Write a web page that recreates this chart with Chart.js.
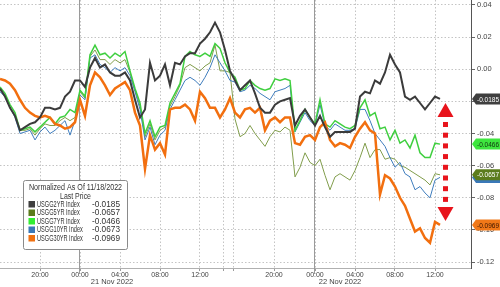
<!DOCTYPE html>
<html lang="en">
<head>
<meta charset="UTF-8">
<title>US Treasury yields, normalized as of 11/18/2022</title>
<style>
  html, body { margin: 0; padding: 0; background: #fff; }
  #chart { display: block; }
</style>
</head>
<body>
<canvas id="chart" width="500" height="287" aria-label="Normalized US Treasury yields" role="img"></canvas>

<script src="https://cdn.jsdelivr.net/npm/chart.js@4"></script>
<script>
// one sample every half hour on Bloomberg's compressed time axis (hours from the left edge)
const STEP = 0.5;

const usgg2yr = [
  -0.012, -0.017, -0.024, -0.029, -0.038, -0.036, -0.034, -0.033, -0.030, -0.024,
  -0.024, -0.025, -0.024, -0.017, -0.014, -0.007, -0.007, -0.011, 0.001, 0.007,
  0.001, 0.003, -0.002, -0.004, -0.004, -0.002, -0.007, -0.019, -0.030, -0.025,
  0.004, -0.007, -0.004, 0.003, -0.010, 0.004, 0.003, 0.008, 0.010, 0.010,
  0.016, 0.019, 0.023, 0.029, 0.023, 0.012, -0.001, -0.007, -0.013, -0.010,
  -0.007, -0.015, -0.024, -0.027, -0.027, -0.022, -0.020, -0.019, -0.018, -0.035,
  -0.029, -0.025, -0.030, -0.035, -0.029, -0.036, -0.042, -0.039, -0.039, -0.039,
  -0.039, -0.037, -0.017, -0.014, -0.015, -0.007, -0.009, -0.002, 0.009, 0.003,
  -0.002, -0.017, -0.019, -0.017, -0.021, -0.025, -0.021, -0.017, -0.0185
];
const usgg5yr = [
  -0.013, -0.016, -0.024, -0.029, -0.038, -0.038, -0.037, -0.041, -0.037, -0.034,
  -0.035, -0.035, -0.032, -0.030, -0.032, -0.030, -0.014, -0.018, 0.008, 0.012,
  0.006, 0.006, 0.003, 0.006, 0.004, 0.006, -0.002, -0.013, -0.023, -0.042,
  -0.034, -0.044, -0.038, -0.036, -0.023, -0.017, -0.010, 0.001, 0.003, 0.001,
  -0.001, 0.002, 0.004, 0.015, -0.001, -0.001, -0.002, -0.031, -0.042, -0.040,
  -0.035, -0.040, -0.044, -0.048, -0.042, -0.038, -0.039, -0.036, -0.038, -0.067,
  -0.061, -0.052, -0.058, -0.060, -0.056, -0.066, -0.075, -0.067, -0.065, -0.067,
  -0.069, -0.063, -0.055, -0.046, -0.055, -0.050, -0.050, -0.056, -0.055, -0.056,
  -0.060, -0.061, -0.063, -0.065, -0.067, -0.069, -0.072, -0.065, -0.0657
];
const usgg7yr = [
  -0.011, -0.015, -0.022, -0.027, -0.038, -0.037, -0.036, -0.039, -0.036, -0.033,
  -0.030, -0.034, -0.030, -0.029, -0.025, -0.027, -0.013, -0.017, 0.009, 0.015,
  0.009, 0.010, 0.007, 0.010, 0.008, 0.011, -0.001, -0.012, -0.021, -0.040,
  -0.032, -0.042, -0.036, -0.035, -0.021, -0.015, -0.009, 0.008, 0.011, 0.009,
  0.008, 0.010, 0.008, 0.016, 0.013, 0.004, -0.002, -0.005, -0.013, -0.012,
  -0.007, -0.010, -0.012, -0.013, -0.012, -0.006, -0.007, -0.006, -0.007, -0.038,
  -0.032, -0.025, -0.030, -0.034, -0.019, -0.034, -0.036, -0.032, -0.034, -0.036,
  -0.037, -0.035, -0.024, -0.019, -0.029, -0.027, -0.037, -0.036, -0.044, -0.038,
  -0.046, -0.044, -0.049, -0.041, -0.052, -0.055, -0.055, -0.046, -0.0466
];
const usgg10yr = [
  -0.014, -0.017, -0.024, -0.030, -0.040, -0.039, -0.038, -0.044, -0.039, -0.036,
  -0.040, -0.038, -0.035, -0.032, -0.041, -0.032, -0.016, -0.019, 0.007, 0.009,
  0.003, 0.001, -0.002, 0.001, -0.001, 0.001, -0.004, -0.014, -0.025, -0.044,
  -0.036, -0.047, -0.041, -0.038, -0.025, -0.019, -0.013, -0.007, -0.005, -0.007,
  -0.010, -0.005, 0.001, 0.009, 0.004, -0.001, -0.007, -0.008, -0.014, -0.013,
  -0.010, -0.012, -0.015, -0.017, -0.019, -0.014, -0.013, -0.012, -0.010, -0.039,
  -0.033, -0.027, -0.032, -0.035, -0.022, -0.035, -0.038, -0.034, -0.036, -0.038,
  -0.038, -0.037, -0.025, -0.025, -0.032, -0.040, -0.044, -0.048, -0.055, -0.061,
  -0.058, -0.065, -0.067, -0.075, -0.073, -0.077, -0.080, -0.069, -0.0673
];
const usgg30yr = [
  -0.006, -0.007, -0.009, -0.013, -0.019, -0.024, -0.027, -0.029, -0.030, -0.029,
  -0.030, -0.034, -0.035, -0.037, -0.036, -0.033, -0.019, -0.029, -0.010, -0.002,
  -0.005, -0.010, -0.016, -0.012, -0.010, -0.008, -0.013, -0.027, -0.035, -0.062,
  -0.041, -0.050, -0.046, -0.053, -0.025, -0.024, -0.024, -0.022, -0.025, -0.032,
  -0.014, -0.018, -0.024, -0.024, -0.030, -0.025, -0.018, -0.027, -0.030, -0.025,
  -0.024, -0.027, -0.024, -0.038, -0.032, -0.030, -0.033, -0.030, -0.030, -0.046,
  -0.047, -0.042, -0.041, -0.044, -0.036, -0.033, -0.044, -0.048, -0.046, -0.047,
  -0.049, -0.042, -0.037, -0.033, -0.038, -0.040, -0.078, -0.066, -0.068, -0.073,
  -0.080, -0.085, -0.093, -0.101, -0.099, -0.105, -0.108, -0.095, -0.0969
];

const seriesNames = ['USGG2YR Index', 'USGG5YR Index', 'USGG7YR Index', 'USGG10YR Index', 'USGG30YR Index'];
const seriesValues = [usgg2yr, usgg5yr, usgg7yr, usgg10yr, usgg30yr];

// x ticks (hours on the compressed axis) and their labels
const tickHours = [4, 8, 12, 16, 20, 22.3, 23.3, 27.4, 31.5, 35.5, 39.5, 43.5];
const tickLabels = ['20:00', '00:00', '04:00', '08:00', '12:00', '', '', '20:00', '00:00', '04:00', '08:00', '12:00'];
const dayStarts = [8, 31.5];
const dayLabels = ['21 Nov 2022', '22 Nov 2022'];
const dayLabelHours = [11.2, 34];
const yTicks = [0.04, 0.02, 0, -0.02, -0.04, -0.06, -0.08, -0.10, -0.12];

const lineColors = ['#3b3b3b', '#819d4c', '#3fcf3f', '#3f7dbd', '#f26f0f'];
const lineWidths = [2, 1, 1.5, 1, 2.5];
const swatchColors = ['#3f3f3f', '#5b7c1c', '#33ee33', '#3a78b8', '#f07010'];
const tagColors = ['#3f3f3f', '#5b7c1c', '#3ee63e', '#3a78b8', '#f07818'];
const tagText = ['#ffffff', '#ffffff', '#123312', '#ffffff', '#3a1500'];

const FONT = '"Liberation Sans", Arial, sans-serif';
Chart.defaults.font.family = FONT;
Chart.defaults.font.size = 7.5;
Chart.defaults.color = '#444';

const last = arr => arr[arr.length - 1];

// squeezed text, the Bloomberg legend font is much narrower than ours
function narrowText(ctx, txt, x, y, squeeze) {
    ctx.fillText(txt, x, y, ctx.measureText(txt).width * squeeze);
}

// extra drawing: day dividers, date row, price tags, red arrow, legend box
const overlays = {
    id: 'overlays',
    beforeDatasetsDraw(chart) {
        const { ctx, chartArea, scales: { x } } = chart;
        ctx.save();
        ctx.strokeStyle = '#9a9a9a';
        ctx.lineWidth = 1;
        dayStarts.forEach(h => {
            const px = Math.round(x.getPixelForValue(h)) - 0.5;
            ctx.beginPath();
            ctx.moveTo(px, chartArea.top);
            ctx.lineTo(px, chartArea.bottom + 6);
            ctx.stroke();
        });
        ctx.restore();
    },
    afterDraw(chart) {
        const { ctx, scales: { x, y } } = chart;
        ctx.save();
        ctx.font = '7.5px ' + FONT;
        ctx.textBaseline = 'middle';

        // date row
        ctx.fillStyle = '#444';
        ctx.textAlign = 'center';
        dayLabels.forEach((txt, i) => ctx.fillText(txt, x.getPixelForValue(dayLabelHours[i]), 282));

        // last-price tags on the right axis
        ctx.textAlign = 'left';
        const left = x.right + 1;
        [4, 3, 1, 2, 0].forEach(i => {
            const v = last(seriesValues[i]);
            const py = y.getPixelForValue(v);
            ctx.beginPath();
            ctx.moveTo(left, py);
            ctx.lineTo(left + 4, py - 5.5);
            ctx.lineTo(500, py - 5.5);
            ctx.lineTo(500, py + 5.5);
            ctx.lineTo(left + 4, py + 5.5);
            ctx.closePath();
            ctx.fillStyle = tagColors[i];
            ctx.fill();
            ctx.fillStyle = tagText[i];
            ctx.fillText(v.toFixed(4), left + 5, py + 0.5, 22);
        });

        // red double arrow between the 2YR and 30YR closes
        const ax = x.getPixelForValue(44.55);
        const top = y.getPixelForValue(last(usgg2yr) - 0.0025);
        const bot = y.getPixelForValue(last(usgg30yr) + 0.0025);
        ctx.fillStyle = '#e8141c';
        ctx.beginPath();
        ctx.moveTo(ax, top);
        ctx.lineTo(ax + 8, top + 14);
        ctx.lineTo(ax - 8, top + 14);
        ctx.closePath();
        ctx.fill();
        ctx.beginPath();
        ctx.moveTo(ax, bot);
        ctx.lineTo(ax + 8, bot - 14);
        ctx.lineTo(ax - 8, bot - 14);
        ctx.closePath();
        ctx.fill();
        for (let yy = top + 19; yy < bot - 18; yy += 10.7) {
            ctx.fillRect(ax - 2.5, yy, 5, 5);
        }

        // legend box
        const bx = 23.5, by = 180.5, bw = 104, bh = 69;
        ctx.fillStyle = '#fff';
        ctx.strokeStyle = '#8a8a8a';
        ctx.lineWidth = 1;
        ctx.beginPath();
        ctx.roundRect(bx, by, bw, bh, 2);
        ctx.fill();
        ctx.stroke();
        ctx.font = '8.5px ' + FONT;
        ctx.fillStyle = '#333';
        ctx.textAlign = 'center';
        narrowText(ctx, 'Normalized As Of 11/18/2022', bx + bw / 2, by + 7.5, 0.84);
        narrowText(ctx, 'Last Price', bx + bw / 2, by + 16, 0.82);
        ctx.textAlign = 'left';
        seriesNames.forEach((name, i) => {
            const ry = by + 23.5 + i * 8.5;
            ctx.fillStyle = swatchColors[i];
            ctx.fillRect(bx + 5, ry - 3, 6.5, 6.5);
            ctx.fillStyle = '#333';
            narrowText(ctx, name, bx + 13.5, ry + 0.5, 0.66);
            narrowText(ctx, last(seriesValues[i]).toFixed(4), bx + 68.5, ry + 0.5, 0.97);
        });
        ctx.restore();
    }
};

const ctx = document.getElementById('chart').getContext('2d');

new Chart(ctx, {
    type: 'line',
    data: {
        datasets: seriesValues.map((vals, i) => ({
            label: seriesNames[i],
            data: vals.map((v, k) => ({ x: k * STEP, y: v })),
            borderColor: lineColors[i],
            borderWidth: lineWidths[i],
            pointRadius: 0,
            tension: 0,
            order: [0, 4, 2, 3, 1][i]
        }))
    },
    options: {
        responsive: false,
        animation: false,
        devicePixelRatio: 1,
        layout: { padding: 0 },
        plugins: {
            legend: { display: false },
            tooltip: { enabled: false }
        },
        scales: {
            x: {
                type: 'linear',
                min: 0,
                max: 47.1,
                afterBuildTicks: s => { s.ticks = tickHours.map(v => ({ value: v })); },
                afterFit: s => { s.height = 19; s.paddingLeft = 0; s.paddingRight = 0; },
                ticks: {
                    autoSkip: false,
                    maxRotation: 0,
                    padding: 0,
                    font: { size: 7 },
                    callback: (v, i) => tickLabels[i]
                },
                grid: { color: '#c4c4c4', tickColor: '#9a9a9a', tickLength: 3 },
                border: { color: '#b0b0b0', dash: [1.5, 2] }
            },
            y: {
                position: 'right',
                min: -0.1237,
                max: 0.0431,
                afterBuildTicks: s => { s.ticks = yTicks.map(v => ({ value: v })); },
                afterFit: s => { s.width = 29; s.paddingTop = 0; s.paddingBottom = 0; },
                ticks: {
                    padding: 2,
                    callback: v => v.toFixed(2)
                },
                grid: { color: '#c4c4c4', tickColor: '#666', tickLength: 4 },
                border: { color: '#555', dash: [1.5, 2] }
            }
        }
    },
    plugins: [overlays]
});
</script>
</body>
</html>
